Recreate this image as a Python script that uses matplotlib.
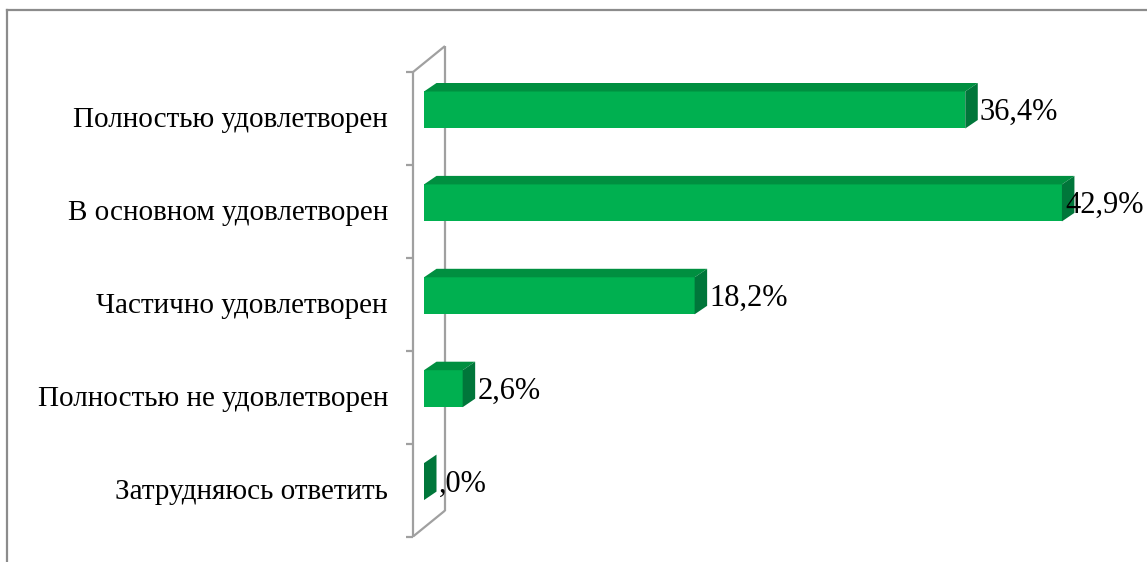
import numpy as np
import matplotlib.pyplot as plt
from matplotlib.patches import Polygon
from matplotlib.lines import Line2D

categories = ["Полностью удовлетворен", "В основном удовлетворен",
              "Частично удовлетворен", "Полностью не удовлетворен",
              "Затрудняюсь ответить"]
values = [36.4, 42.9, 18.2, 2.6, 0.0]
value_labels = ["36,4%", "42,9%", "18,2%", "2,6%", ",0%"]

front_col = "#00b050"
top_col = "#008f40"
side_col = "#00763a"
wall_col = "#a0a0a0"

W, H = 1147, 562
px = 14.87   # pixels per percent
py = 92.9    # pixels per category
x0, y0 = 424, 110

fig = plt.figure(figsize=(W / 100, H / 100), dpi=100)
ax = fig.add_axes([0, 0, 1, 1])
ax.set_xlim(-x0 / px, (W - x0) / px)
ax.set_ylim((H - y0) / py, -y0 / py)
ax.axis("off")

# 3d depth of the bars
ddx = 12.5 / px
ddy = 8.5 / py
bar_h = 37 / py

# walls (front and back edges of the category axis)
n = len(categories)
wx = -11 / px
wdx = 32 / px
wdy = 26 / py
wy_top = -0.5 + ddy
wy_bot = n - 0.5 + ddy
wkw = dict(color=wall_col, lw=1.6, solid_capstyle="butt", zorder=1)
ax.plot([wx, wx], [wy_top, wy_bot], **wkw)
ax.plot([wx + wdx, wx + wdx], [wy_top - wdy, wy_bot - wdy], **wkw)
ax.plot([wx, wx + wdx], [wy_top, wy_top - wdy], **wkw)
ax.plot([wx, wx + wdx], [wy_bot, wy_bot - wdy], **wkw)
for k in range(n + 1):
    ax.plot([wx - 7 / px, wx], [wy_top + k, wy_top + k], **wkw)

y = np.arange(n)
ax.barh(y, values, height=bar_h, left=0, color=front_col, lw=0, zorder=3)
texts = []
for i, v in enumerate(values):
    t = i - bar_h / 2
    b = i + bar_h / 2
    if v > 0:
        ax.add_patch(Polygon([(0, t), (v, t), (v + ddx, t - ddy), (ddx, t - ddy)],
                             closed=True, fc=top_col, lw=0, zorder=3))
    ax.add_patch(Polygon([(v, t), (v, b), (v + ddx, b - ddy), (v + ddx, t - ddy)],
                         closed=True, fc=side_col, lw=0, zorder=3))
    texts.append(ax.text(v + ddx + 2 / px, i + 2.5 / py, value_labels[i], ha="left",
                         va="center", fontsize=22, family="Liberation Serif",
                         color="black", zorder=4))
    ax.text(wx - 25 / px, i + ddy + 2 / py, categories[i], ha="right", va="center",
            fontsize=21, family="Liberation Serif", color="black")

# pull labels that run past the right edge back inside (as Excel does)
r = fig.canvas.get_renderer()
for tx in texts:
    bb = tx.get_window_extent(r)
    if bb.x1 > W - 3:
        x, yy = tx.get_position()
        tx.set_position((x - (bb.x1 - (W - 3)) / px, yy))

# outer chart frame (only top and left visible)
fkw = dict(color="#8c8c8c", lw=1.6, transform=fig.transFigure)
fig.add_artist(Line2D([7 / W, 1], [1 - 10 / H, 1 - 10 / H], **fkw))
fig.add_artist(Line2D([7 / W, 7 / W], [0, 1 - 10 / H], **fkw))

fig.savefig("out.png", dpi=100, facecolor="white")
